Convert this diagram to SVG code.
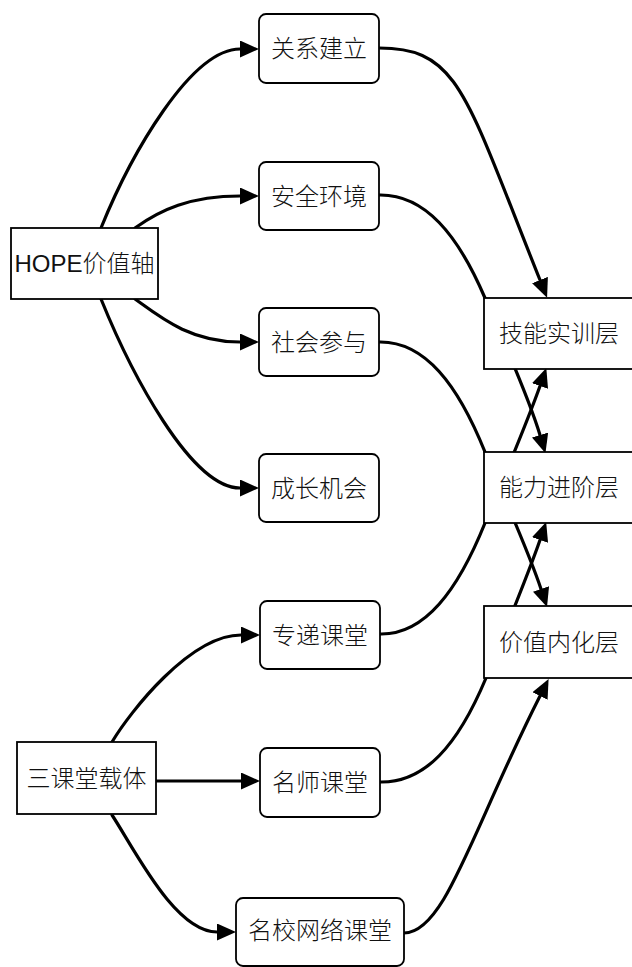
<svg xmlns="http://www.w3.org/2000/svg" width="632" height="967" viewBox="0 0 632 967">
<style>
.edge{fill:none;stroke:#000;stroke-width:3.2;stroke-linecap:round;marker-end:url(#arr)}
.box{fill:#fff;stroke:#000;stroke-width:1.8}
.lbl{font-family:"Liberation Sans","Noto Sans CJK SC",sans-serif;font-size:24px;font-weight:300;fill:#111;text-anchor:middle;dominant-baseline:central}
</style>
<defs>
<marker id="arr" viewBox="0 0 19 17" refX="0" refY="8.5" markerWidth="19" markerHeight="17" markerUnits="userSpaceOnUse" orient="auto">
<path d="M0,0 L19,8.5 L0,17 z" fill="#000"/>
</marker>
</defs>
<rect width="632" height="967" fill="#fff"/>
<g id="connectors">
<path class="edge" d="M101,228 C131,154 191,49 240,49"/>
<path class="edge" d="M135,228 C160,210 190,196 240,196"/>
<path class="edge" d="M135,299 C160,317 190,342 240,342"/>
<path class="edge" d="M101,299 C131,373 191,488 240,488"/>
<path class="edge" d="M379,48 C459,48 465,93 540,280"/>
<path class="edge" d="M379,195 C425,194 458,235 485,298 C505,345 528,395 540,435"/>
<path class="edge" d="M379,342 C425,341 458,385 485,452 C505,500 528,550 541,589"/>
<path class="edge" d="M380,634 C425,635 458,590 485,523 C505,475 528,420 540,386"/>
<path class="edge" d="M380,782 C425,783 458,745 486,678 C505,630 528,575 540,540"/>
<path class="edge" d="M404,933 C445,933 472,830 540,696"/>
<path class="edge" d="M112,742 C130,712 190,635 241,635"/>
<path class="edge" d="M156,781 L241,781"/>
<path class="edge" d="M112,815 C135,850 175,932 217,932"/>
</g>
<g id="hope"><rect class="box" x="11" y="228" width="147" height="71"/><text class="lbl" x="84.5" y="263">HOPE价值轴</text></g>
<g id="guanxi"><rect class="box" x="259" y="14" width="120" height="69" rx="7"/><text class="lbl" x="319" y="48">关系建立</text></g>
<g id="anquan"><rect class="box" x="259" y="162" width="120" height="68" rx="7"/><text class="lbl" x="319" y="196">安全环境</text></g>
<g id="shehui"><rect class="box" x="259" y="308" width="120" height="68" rx="7"/><text class="lbl" x="319" y="342">社会参与</text></g>
<g id="chengzhang"><rect class="box" x="259" y="454" width="120" height="68" rx="7"/><text class="lbl" x="319" y="488">成长机会</text></g>
<g id="jineng"><rect class="box" x="484" y="298" width="150" height="71"/><text class="lbl" x="559" y="333">技能实训层</text></g>
<g id="nengli"><rect class="box" x="484" y="452" width="150" height="71"/><text class="lbl" x="559" y="487">能力进阶层</text></g>
<g id="jiazhi"><rect class="box" x="484" y="606" width="150" height="72"/><text class="lbl" x="559" y="642">价值内化层</text></g>
<g id="sanketang"><rect class="box" x="17" y="742" width="139" height="72"/><text class="lbl" x="86.5" y="778">三课堂载体</text></g>
<g id="zhuandi"><rect class="box" x="260" y="601" width="120" height="68" rx="7"/><text class="lbl" x="320" y="635">专递课堂</text></g>
<g id="mingshi"><rect class="box" x="260" y="748" width="120" height="69" rx="7"/><text class="lbl" x="320" y="782">名师课堂</text></g>
<g id="mingxiao"><rect class="box" x="236" y="898" width="168" height="68" rx="7"/><text class="lbl" x="320" y="930">名校网络课堂</text></g>
</svg>
